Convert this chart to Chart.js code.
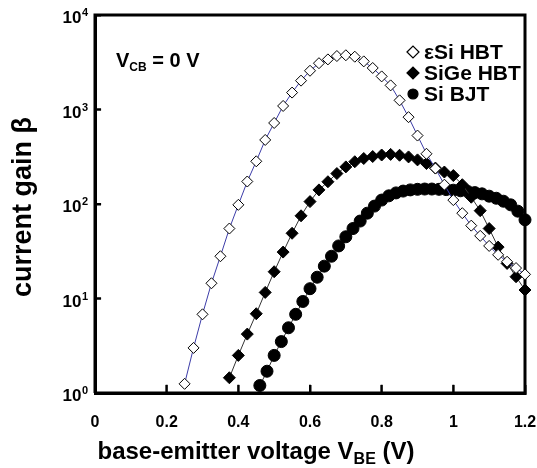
<!DOCTYPE html>
<html>
<head>
<meta charset="utf-8">
<script src="https://cdn.jsdelivr.net/npm/chart.js@4/dist/chart.umd.min.js"></script>
<style>
  html, body { margin: 0; padding: 0; background: #fff; }
</style>
</head>
<body>
<canvas id="gainChart" width="537" height="468"></canvas>
<script>
const seriesNames = ["\u03B5Si HBT", "SiGe HBT", "Si BJT"];

// εSi HBT (open diamonds)
const vEsi = [0.25, 0.275, 0.3, 0.325, 0.35, 0.375, 0.4, 0.425, 0.45, 0.475, 0.5, 0.525, 0.55, 0.575,
    0.6, 0.625, 0.65, 0.675, 0.7, 0.725, 0.75, 0.775, 0.8, 0.825, 0.85, 0.875, 0.9, 0.925, 0.95,
    0.975, 1.0, 1.025, 1.05, 1.075, 1.1, 1.125, 1.15, 1.175, 1.2];
const betaEsi = [1.25, 3.0, 6.8, 14.5, 28, 55, 98, 173, 283, 476, 720, 1090, 1510, 2020,
    2570, 3090, 3390, 3680, 3750, 3620, 3230, 2750, 2240, 1800, 1250, 830, 530, 340, 238,
    160, 110, 80, 59, 46, 36, 29, 24.5, 21, 18];

// SiGe HBT (filled diamonds)
const vSiGe = [0.375, 0.4, 0.425, 0.45, 0.475, 0.5, 0.525, 0.55, 0.575, 0.6, 0.625, 0.65, 0.675,
    0.7, 0.725, 0.75, 0.775, 0.8, 0.825, 0.85, 0.875, 0.9, 0.925, 0.95, 0.975, 1.0, 1.025, 1.05,
    1.075, 1.1, 1.125, 1.15, 1.175, 1.2];
const betaSiGe = [1.45, 2.5, 4.2, 6.9, 11.6, 19.2, 31, 49, 75, 106, 141, 172, 210,
    247, 280, 303, 318, 330, 335, 328, 315, 293, 268, 240, 218, 200, 160, 118,
    85, 55, 35, 23.5, 17, 12.3];

// Si BJT (filled circles)
const vSi = [0.46, 0.48, 0.5, 0.52, 0.54, 0.56, 0.58, 0.6, 0.62, 0.64, 0.66, 0.68, 0.7, 0.72,
    0.74, 0.76, 0.78, 0.8, 0.82, 0.84, 0.86, 0.88, 0.9, 0.92, 0.94, 0.96, 0.98, 1.0, 1.02,
    1.04, 1.06, 1.08, 1.1, 1.12, 1.14, 1.16, 1.18, 1.2];
const betaSi = [1.2, 1.7, 2.5, 3.5, 4.9, 6.8, 9.3, 12.7, 16.8, 22, 28, 36, 45, 55,
    66, 80, 95, 110, 122, 131, 137, 141, 143, 144, 144, 143, 142, 140, 138,
    136, 132, 128, 121, 115, 107, 98, 84, 68];

const xRange = [0, 1.2];
const yRange = [1, 10000];
const xTicks = [0, 0.2, 0.4, 0.6, 0.8, 1.0, 1.2];
const xTickLabels = ["0", "0.2", "0.4", "0.6", "0.8", "1", "1.2"];
const yTickExps = [0, 1, 2, 3, 4];

const FONT = "'Liberation Sans', Arial, sans-serif";

function pts(xs, ys) {
    return xs.map((x, i) => ({ x: x, y: ys[i] }));
}

// box around the plot, as a line through the axis corners
const frameData = [
    { x: xRange[0], y: yRange[0] }, { x: xRange[1], y: yRange[0] },
    { x: xRange[1], y: yRange[1] }, { x: xRange[0], y: yRange[1] },
    { x: xRange[0], y: yRange[0] }
];

// short inward tick marks (gaps between them)
const tickData = [];
xTicks.slice(1, -1).forEach(v => {
    tickData.push({ x: v, y: yRange[0] }, { x: v, y: yRange[0] * 1.22 }, { x: v, y: null });
});
yTickExps.slice(1, -1).forEach(e => {
    const v = Math.pow(10, e);
    tickData.push({ x: xRange[0], y: v }, { x: xRange[0] + 0.017, y: v }, { x: xRange[0] + 0.017, y: null });
});

/* markers for the legend, same look as the data points */
function legendMarker(ctx, style, x, y, r, fill) {
    ctx.save();
    ctx.beginPath();
    if (style === "circle") {
        ctx.arc(x, y, r, 0, Math.PI * 2);
    } else {
        ctx.moveTo(x - r, y);
        ctx.lineTo(x, y - r);
        ctx.lineTo(x + r, y);
        ctx.lineTo(x, y + r);
        ctx.closePath();
    }
    ctx.fillStyle = fill;
    ctx.fill();
    ctx.lineWidth = 1.2;
    ctx.strokeStyle = "#000";
    ctx.stroke();
    ctx.restore();
}

/* tick labels, titles, legend */
const chartText = {
    id: "chartText",
    afterDraw(chart) {
        const ctx = chart.ctx;
        const a = chart.chartArea;
        const sx = chart.scales.x;
        const sy = chart.scales.y;
        ctx.save();
        ctx.fillStyle = "#000";

        // x tick labels
        ctx.font = "bold 16px " + FONT;
        ctx.textAlign = "center";
        ctx.textBaseline = "middle";
        xTicks.forEach((v, i) => {
            ctx.fillText(xTickLabels[i], sx.getPixelForValue(v), 423);
        });

        // y tick labels 10^n
        ctx.textBaseline = "alphabetic";
        yTickExps.forEach(e => {
            const py = sy.getPixelForValue(Math.pow(10, e));
            ctx.font = "bold 11px " + FONT;
            const supW = ctx.measureText(String(e)).width;
            ctx.textAlign = "right";
            ctx.fillText(String(e), 88, py + 1);
            ctx.font = "bold 17px " + FONT;
            ctx.fillText("10", 88 - supW - 0.5, py + 8);
        });

        // x title with subscript
        const xa = "base-emitter voltage V", xsub = "BE", xb = " (V)";
        ctx.font = "bold 24px " + FONT;
        const w1 = ctx.measureText(xa).width;
        const w3 = ctx.measureText(xb).width;
        ctx.font = "bold 16px " + FONT;
        const w2 = ctx.measureText(xsub).width;
        const x0 = 256 - (w1 + w2 + w3) / 2;
        ctx.textAlign = "left";
        ctx.font = "bold 24px " + FONT;
        ctx.fillText(xa, x0, 459);
        ctx.font = "bold 16px " + FONT;
        ctx.fillText(xsub, x0 + w1, 464);
        ctx.font = "bold 24px " + FONT;
        ctx.fillText(xb, x0 + w1 + w2, 459);

        // y title
        ctx.save();
        ctx.translate(24, (a.top + a.bottom) / 2 + 3);
        ctx.rotate(-Math.PI / 2);
        ctx.font = "bold 27px " + FONT;
        ctx.textAlign = "center";
        ctx.textBaseline = "middle";
        ctx.fillText("current gain \u03B2", 0, 0);
        ctx.restore();

        // V_CB = 0 V
        ctx.textAlign = "left";
        ctx.textBaseline = "alphabetic";
        const vx = 116;
        ctx.font = "bold 20px " + FONT;
        ctx.fillText("V", vx, 67);
        const vW = ctx.measureText("V").width;
        ctx.font = "bold 12px " + FONT;
        ctx.fillText("CB", vx + vW, 71);
        const cbW = ctx.measureText("CB").width;
        ctx.font = "bold 20px " + FONT;
        ctx.fillText(" = 0 V", vx + vW + cbW, 67);

        // legend
        const rows = [52, 73, 94];
        chart.data.datasets.slice(0, seriesNames.length).forEach((ds, i) => {
            legendMarker(ctx, ds.pointStyle, 413, rows[i], ds.pointStyle === "circle" ? 5 : 6,
                ds.pointBackgroundColor);
            ctx.font = "bold 21px " + FONT;
            ctx.fillStyle = "#000";
            ctx.textBaseline = "middle";
            ctx.fillText(ds.label, 424, rows[i] + 1);
        });

        ctx.restore();
    }
};

new Chart(document.getElementById("gainChart").getContext("2d"), {
    type: "line",
    data: {
        datasets: [
            {
                label: seriesNames[0],
                data: pts(vEsi, betaEsi),
                borderColor: "#3c3ca8",
                borderWidth: 1,
                pointStyle: "rectRot",
                pointRadius: 5.5,
                pointBackgroundColor: "#ffffff",
                pointBorderColor: "#000000",
                pointBorderWidth: 1,
                clip: 8
            },
            {
                label: seriesNames[1],
                data: pts(vSiGe, betaSiGe),
                borderColor: "#333333",
                borderWidth: 1,
                pointStyle: "rectRot",
                pointRadius: 6,
                pointBackgroundColor: "#000000",
                pointBorderColor: "#000000",
                pointBorderWidth: 1,
                clip: 8
            },
            {
                label: seriesNames[2],
                data: pts(vSi, betaSi),
                borderColor: "#333333",
                borderWidth: 1,
                pointStyle: "circle",
                pointRadius: 6,
                pointBackgroundColor: "#000000",
                pointBorderColor: "#000000",
                pointBorderWidth: 1,
                clip: 8
            },
            {
                label: "ticks",
                data: tickData,
                borderColor: "#000000",
                borderWidth: 2,
                pointRadius: 0,
                spanGaps: false,
                clip: 4
            },
            {
                label: "frame",
                data: frameData,
                borderColor: "#000000",
                borderWidth: 3,
                borderJoinStyle: "miter",
                pointRadius: 0,
                clip: 4
            }
        ]
    },
    options: {
        responsive: false,
        animation: false,
        layout: { padding: { left: 0, top: 15, right: 12, bottom: 0 } },
        plugins: {
            legend: { display: false },
            tooltip: { enabled: false }
        },
        scales: {
            x: {
                type: "linear",
                min: xRange[0],
                max: xRange[1],
                border: { display: true, width: 3, color: "#000" },
                grid: { display: true, drawOnChartArea: false, drawTicks: true, tickLength: -8, tickWidth: 2, tickColor: "#000" },
                ticks: { display: false },
                afterBuildTicks: s => { s.ticks = xTicks.map(v => ({ value: v })); },
                afterFit: s => { s.height = 75; }
            },
            y: {
                type: "logarithmic",
                min: yRange[0],
                max: yRange[1],
                border: { display: true, width: 3, color: "#000" },
                grid: { display: true, drawOnChartArea: false, drawTicks: true, tickLength: -6, tickWidth: 2, tickColor: "#000" },
                ticks: { display: false },
                afterBuildTicks: s => { s.ticks = yTickExps.map(e => ({ value: Math.pow(10, e) })); },
                afterFit: s => { s.width = 95; }
            }
        }
    },
    plugins: [chartText]
});
</script>
</body>
</html>
